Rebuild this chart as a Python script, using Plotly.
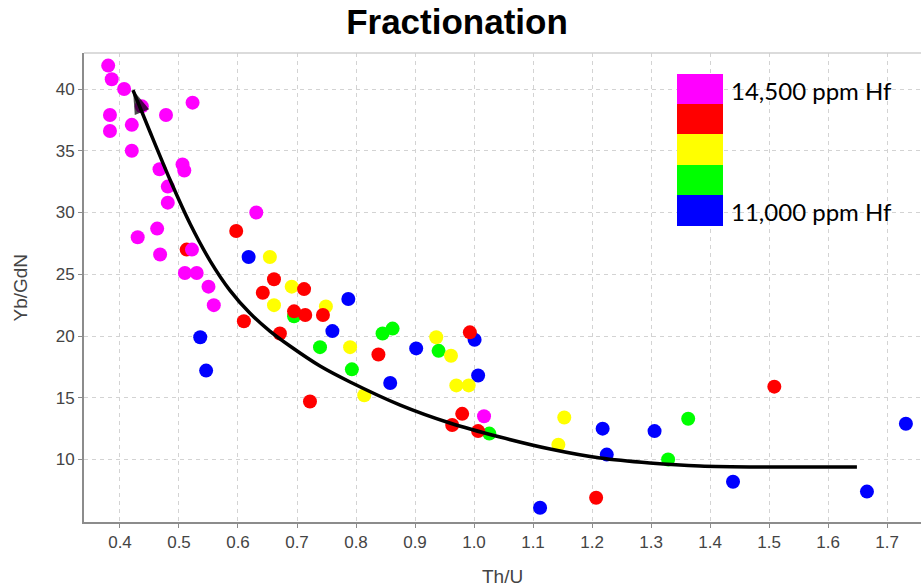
import plotly.graph_objects as go

# ---------------- data ----------------
magenta_x = [0.380, 0.386, 0.407, 0.437, 0.523, 0.383, 0.478, 0.420, 0.383, 0.420,
             0.467, 0.506, 0.509, 0.481, 0.481, 0.631, 0.463, 0.430, 0.522, 0.468,
             0.510, 0.530, 0.550, 0.559, 1.017]
magenta_y = [41.9, 40.8, 40.0, 38.6, 38.9, 37.9, 37.9, 37.1, 36.6, 35.0,
             33.5, 33.9, 33.4, 32.1, 30.8, 30.0, 28.7, 28.0, 27.0, 26.6,
             25.1, 25.1, 24.0, 22.5, 13.5]

red_x = [0.597, 0.513, 0.661, 0.642, 0.712, 0.695, 0.714, 0.744, 0.610, 0.671,
         0.838, 0.993, 0.722, 0.980, 0.963, 1.007, 1.509, 1.207]
red_y = [28.5, 27.0, 24.6, 23.5, 23.8, 22.0, 21.7, 21.7, 21.2, 20.2,
         18.5, 20.3, 14.7, 13.7, 12.8, 12.3, 15.9, 6.9]

yellow_x = [0.654, 0.691, 0.661, 0.749, 0.790, 0.936, 0.961, 0.970, 0.991, 0.814,
            1.153, 1.143]
yellow_y = [26.4, 24.0, 22.5, 22.4, 19.1, 19.9, 18.4, 16.0, 16.0, 15.2,
            13.4, 11.2]

green_x = [0.695, 0.739, 0.845, 0.862, 0.793, 0.940, 1.026, 1.363, 1.329]
green_y = [21.6, 19.1, 20.2, 20.6, 17.3, 18.8, 12.1, 13.3, 10.0]

blue_x = [0.618, 0.536, 0.546, 0.787, 0.760, 0.902, 1.001, 0.858, 1.007, 1.112,
          1.218, 1.225, 1.306, 1.439, 1.666, 1.732]
blue_y = [26.4, 19.9, 17.2, 23.0, 20.4, 19.0, 19.7, 16.2, 16.8, 6.1,
          12.5, 10.4, 12.3, 8.2, 7.4, 12.9]

# trend curve, drawn from right to left, ending at the arrow tip
curve_x = [1.649, 1.485, 1.383, 1.298, 1.214, 1.129, 1.044, 0.959, 0.875, 0.790,
           0.739, 0.688, 0.654, 0.620, 0.586, 0.553, 0.519, 0.485, 0.451, 0.422]
curve_y = [9.39, 9.39, 9.47, 9.72, 10.12, 10.85, 11.82, 12.96, 14.41, 16.28,
           17.57, 19.19, 20.40, 21.86, 23.72, 26.07, 29.07, 32.63, 36.52, 39.92]

legend_colors = ["#FF00FF", "#FF0000", "#FFFF00", "#00FF00", "#0000FF"]
legend_top_label = "14,500 ppm Hf"
legend_bottom_label = "11,000 ppm Hf"

x_ticks = [0.4, 0.5, 0.6, 0.7, 0.8, 0.9, 1.0, 1.1, 1.2, 1.3, 1.4, 1.5, 1.6, 1.7]
y_ticks = [10, 15, 20, 25, 30, 35, 40]

# ---------------- figure ----------------
W, H = 921, 588
ML, MR, MT, MB = 84, 0, 53, 66
PW, PH = W - ML - MR, H - MT - MB


def pxx(px):
    return (px - ML) / PW


def pxy(py):
    return (H - MB - py) / PH


fig = go.Figure()

groups = [
    (blue_x, blue_y, "#0000FF"),
    (green_x, green_y, "#00FF00"),
    (yellow_x, yellow_y, "#FFFF00"),
    (red_x, red_y, "#FF0000"),
    (magenta_x, magenta_y, "#FF00FF"),
]
for gx, gy, col in groups:
    fig.add_trace(go.Scatter(
        x=gx, y=gy, mode="markers",
        marker=dict(color=col, size=14, line=dict(width=0)),
        hoverinfo="x+y", showlegend=False,
    ))

sizes = [0] * (len(curve_x) - 1) + [25]
fig.add_trace(go.Scatter(
    x=curve_x, y=curve_y, mode="lines+markers",
    line=dict(color="black", width=3.5, shape="spline", smoothing=0.8),
    marker=dict(symbol="arrow", size=sizes, color="black", angleref="previous",
                line=dict(width=0)),
    hoverinfo="skip", showlegend=False,
))

axis_common = dict(
    showgrid=True, gridcolor="#d3d3d3", gridwidth=1, griddash="4px,4px",
    showline=True, linecolor="#8c8c8c", linewidth=2,
    ticks="outside", ticklen=4, tickcolor="#8c8c8c", tickwidth=1,
    zeroline=False,
    tickfont=dict(family="Liberation Sans, Arial, sans-serif", size=17, color="#444444"),
)

fig.update_xaxes(range=[0.339, 1.7576], tickvals=x_ticks,
                 ticktext=[f"{v:.1f}" for v in x_ticks], **axis_common)
fig.update_yaxes(range=[4.94, 42.92], tickvals=y_ticks,
                 ticktext=[str(v) for v in y_ticks], **axis_common)

shapes = []
# light top border of the plot area
shapes.append(dict(type="line", xref="paper", yref="paper", x0=0, x1=1, y0=1, y1=1,
                   line=dict(color="#cfcfcf", width=1.5)))
# colour legend boxes
box_left, box_right = 677, 723
box_edges = [74, 104, 134, 165, 195, 226]
for i, col in enumerate(legend_colors):
    shapes.append(dict(type="rect", xref="paper", yref="paper",
                       x0=pxx(box_left), x1=pxx(box_right),
                       y0=pxy(box_edges[i + 1]), y1=pxy(box_edges[i]),
                       fillcolor=col, line=dict(width=0), layer="above"))

annotations = [
    dict(text=legend_top_label, xref="paper", yref="paper", x=pxx(729), y=pxy(90),
         xanchor="left", yanchor="middle", showarrow=False,
         font=dict(family="Lato, Open Sans, sans-serif", size=24, color="black")),
    dict(text=legend_bottom_label, xref="paper", yref="paper", x=pxx(729), y=pxy(211),
         xanchor="left", yanchor="middle", showarrow=False,
         font=dict(family="Lato, Open Sans, sans-serif", size=24, color="black")),
    dict(text="Th/U", xref="paper", yref="paper", x=0.5, y=pxy(576),
         xanchor="center", yanchor="middle", showarrow=False,
         font=dict(family="Liberation Sans, Arial, sans-serif", size=19, color="#444444")),
    dict(text="Yb/GdN", xref="paper", yref="paper", x=pxx(20), y=0.5,
         xanchor="center", yanchor="middle", showarrow=False, textangle=-90,
         font=dict(family="Liberation Sans, Arial, sans-serif", size=19, color="#444444")),
]

fig.update_layout(
    width=W, height=H,
    margin=dict(l=ML, r=MR, t=MT, b=MB),
    paper_bgcolor="white", plot_bgcolor="white",
    title=dict(text="<b>Fractionation</b>", xref="container", yref="container",
               x=457 / W, y=1 - 22 / H, xanchor="center", yanchor="middle",
               font=dict(family="Liberation Sans, Arial, sans-serif", size=35, color="black")),
    shapes=shapes, annotations=annotations,
    showlegend=False,
)

fig.write_html("out.html")
